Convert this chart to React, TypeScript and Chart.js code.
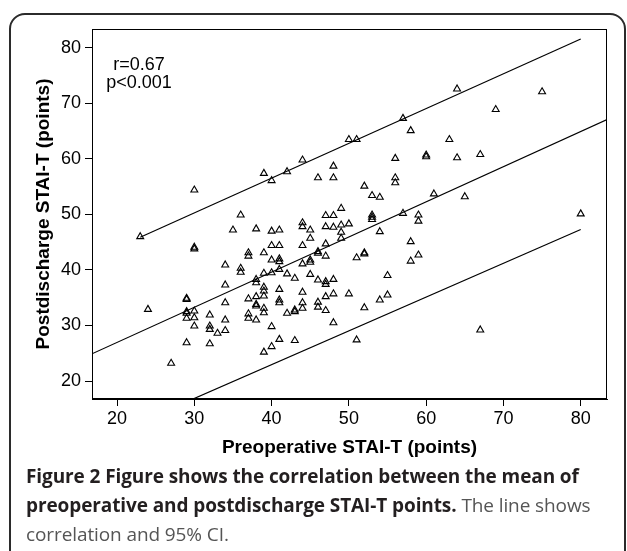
import React, { useEffect, useRef } from "react";
import { Chart, registerables } from "chart.js";

Chart.register(...registerables);

// Preoperative STAI-T (x) and postdischarge STAI-T (y) for each patient
const preopScores = [
  23, 24, 27,
  29, 29, 29, 29, 29, 29,
  30, 30, 30, 30, 30, 30,
  32, 32, 32, 32,
  33,
  34, 34, 34, 34, 34,
  35,
  36, 36, 36,
  37, 37, 37, 37, 37,
  38, 38, 38, 38, 38, 38, 38,
  39, 39, 39, 39, 39, 39, 39, 39, 39,
  40, 40, 40, 40, 40, 40, 40,
  41, 41, 41, 41, 41, 41, 41, 41, 41,
  42, 42, 42,
  43, 43, 43, 43,
  44, 44, 44, 44, 44, 44, 44, 44,
  45, 45, 45, 45, 45,
  46, 46, 46, 46, 46, 46,
  47, 47, 47, 47, 47, 47, 47, 47,
  48, 48, 48, 48, 48, 48, 48,
  49, 49, 49, 49,
  50, 50, 50,
  51, 51, 51,
  52, 52, 52, 52,
  53, 53, 53, 53,
  54, 54, 54,
  55, 55,
  56, 56, 56,
  57, 57,
  58, 58, 58,
  59, 59, 59,
  60, 60,
  61,
  63,
  64, 64,
  65,
  67, 67,
  69,
  75,
  80,
];
const postdischargeScores = [
  46.0, 32.9, 23.2,
  34.9, 34.7, 32.5, 32.2, 31.3, 26.9,
  54.4, 44.1, 43.8, 32.6, 31.4, 29.9,
  31.9, 29.9, 29.3, 26.7,
  28.6,
  40.9, 37.3, 34.1, 31.0, 29.1,
  47.2,
  49.9, 40.3, 39.6,
  43.1, 42.5, 34.8, 32.1, 31.3,
  47.4, 38.3, 37.7, 35.2, 33.8, 33.5, 31.0,
  57.4, 43.1, 39.4, 36.9, 36.2, 35.3, 33.1, 32.3, 25.2,
  56.1, 47.0, 44.4, 41.8, 39.5, 29.8, 26.2,
  47.2, 44.4, 42.0, 41.5, 40.1, 36.5, 34.6, 34.1, 27.5,
  57.7, 39.3, 32.2,
  38.5, 32.8, 32.5, 27.3,
  59.8, 48.5, 47.8, 44.4, 41.1, 36.0, 34.1, 33.1,
  47.2, 45.7, 41.8, 41.4, 39.2,
  56.6, 43.3, 43.0, 38.2, 34.2, 33.3,
  49.8, 47.8, 44.7, 42.5, 37.9, 37.4, 35.2, 32.7,
  58.7, 56.6, 49.8, 47.7, 38.3, 35.7, 30.5,
  51.1, 48.1, 46.8, 45.7,
  63.5, 48.3, 35.7,
  63.5, 42.2, 27.4,
  55.1, 43.1, 42.9, 33.2,
  53.4, 49.9, 49.5, 49.1,
  53.1, 46.9, 34.6,
  39.0, 35.5,
  60.1, 56.6, 55.7,
  67.3, 50.2,
  65.1, 45.1, 41.6,
  49.9, 48.8, 42.7,
  60.7, 60.4,
  53.7,
  63.5,
  72.6, 60.2,
  53.2,
  60.8, 29.2,
  68.9,
  72.1,
  50.1,
];

// Regression line and 95% CI lines (end points)
const fitLineX = [16.76, 83.4];
const fitLineY = [24.9, 67.1];
const upperCIX = [23, 80];
const upperCIY = [45.9, 81.6];
const lowerCIX = [23, 80];
const lowerCIY = [12.6, 47.3];

const tickValues = [20, 30, 40, 50, 60, 70, 80];
const AXIS_MIN = 16.76;
const AXIS_MAX = 83.4;

const statLines = ["r=0.67", "p<0.001"];
const xTitle = "Preoperative STAI-T (points)";
const yTitle = "Postdischarge STAI-T (points)";

const FONT = '"Liberation Sans", Arial, Helvetica, sans-serif';

const framePlugin = {
  id: "frameAndStats",
  afterDraw(chart: any) {
    const { ctx, chartArea: a } = chart;
    ctx.save();
    ctx.strokeStyle = "#000";
    ctx.lineWidth = 1;
    ctx.strokeRect(Math.round(a.left) + 0.5, Math.round(a.top) + 0.5, Math.round(a.right - a.left) - 1, Math.round(a.bottom - a.top) - 1);
    ctx.fillStyle = "#000";
    ctx.font = `18px ${FONT}`;
    ctx.textAlign = "center";
    ctx.textBaseline = "middle";
    ctx.fillText(statLines[0], a.left + 47, a.top + 36);
    ctx.fillText(statLines[1], a.left + 47, a.top + 54);
    ctx.restore();
  },
};

const toPoints = (xs: number[], ys: number[]) => xs.map((x, i) => ({ x, y: ys[i] }));

export default function App() {
  const ref = useRef<HTMLCanvasElement | null>(null);

  useEffect(() => {
    if (!ref.current) return;
    const lineDs = (data: any) => ({
      data,
      showLine: true,
      pointRadius: 0,
      borderColor: "#000",
      borderWidth: 1.2,
      fill: false,
    });
    const chart = new Chart(ref.current, {
      type: "scatter",
      data: {
        datasets: [
          {
            data: toPoints(preopScores, postdischargeScores),
            pointStyle: "triangle",
            pointRadius: 4,
            borderColor: "#000",
            backgroundColor: "rgba(0,0,0,0)",
            borderWidth: 1.1,
          } as any,
          lineDs(toPoints(fitLineX, fitLineY)),
          lineDs(toPoints(upperCIX, upperCIY)),
          lineDs(toPoints(lowerCIX, lowerCIY)),
        ],
      },
      options: {
        responsive: false,
        animation: false,
        devicePixelRatio: 1,
        layout: { padding: { left: 0, top: 29, right: 20, bottom: 92 } },
        plugins: { legend: { display: false }, tooltip: { enabled: false } },
        scales: {
          x: {
            type: "linear",
            min: AXIS_MIN,
            max: AXIS_MAX,
            afterBuildTicks: (s: any) => {
              s.ticks = tickValues.map((v) => ({ value: v }));
            },
            afterFit: (s: any) => {
              s.height = 60;
            },
            grid: { drawOnChartArea: false, drawTicks: true, tickLength: 7, color: "#000", lineWidth: 1 },
            border: { display: true, color: "#000", width: 1 },
            ticks: { color: "#000", font: { family: FONT, size: 18 }, padding: 2, maxRotation: 0, autoSkip: false },
            title: {
              display: true,
              text: xTitle,
              color: "#000",
              font: { family: FONT, size: 19, weight: "bold" },
              padding: { top: 0, bottom: 0 },
            },
          },
          y: {
            type: "linear",
            min: AXIS_MIN,
            max: AXIS_MAX,
            afterBuildTicks: (s: any) => {
              s.ticks = tickValues.map((v) => ({ value: v }));
            },
            afterFit: (s: any) => {
              s.width = 92;
            },
            grid: { drawOnChartArea: false, drawTicks: true, tickLength: 7, color: "#000", lineWidth: 1 },
            border: { display: true, color: "#000", width: 1 },
            ticks: { color: "#000", font: { family: FONT, size: 18 }, padding: 4, autoSkip: false },
            title: {
              display: true,
              text: yTitle,
              color: "#000",
              font: { family: FONT, size: 19, weight: "bold" },
              padding: { top: 32, bottom: 0 },
            },
          },
        },
      } as any,
      plugins: [framePlugin],
    });
    return () => chart.destroy();
  }, []);

  return (
    <div
      style={{
        position: "absolute",
        left: 0,
        top: 0,
        width: 627,
        height: 551,
        overflow: "hidden",
        background: "#fff",
      }}
    >
      <div
        style={{
          position: "absolute",
          left: 9,
          top: 13,
          width: 617,
          height: 620,
          boxSizing: "border-box",
          border: "2px solid #2b2b2b",
          borderRadius: 16,
        }}
      />
      <canvas
        ref={ref}
        width={627}
        height={551}
        style={{ position: "absolute", left: 0, top: 0, width: 627, height: 551 }}
      />
      <div
        style={{
          position: "absolute",
          left: 26,
          top: 462,
          fontFamily: '"Open Sans", "Noto Sans", sans-serif',
          fontSize: 19,
          lineHeight: "29px",
          whiteSpace: "nowrap",
          color: "#555",
          letterSpacing: -0.1,
        }}
      >
        <b style={{ color: "#231f20" }}>Figure 2</b>{" "}
        <b style={{ color: "#231f20" }}>Figure shows the correlation between the mean of</b>
        <br />
        <b style={{ color: "#231f20" }}>preoperative and postdischarge STAI-T points.</b> The line shows
        <br />
        correlation and 95% CI.
      </div>
    </div>
  );
}
